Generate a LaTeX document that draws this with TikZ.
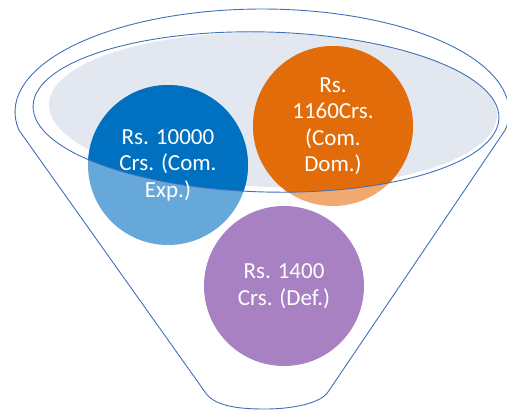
\documentclass[tikz,border=0pt]{standalone}
\usepackage{fontspec}
\newfontfamily\bubblefont{Carlito}
\definecolor{rimblue}{HTML}{4270B8}
\definecolor{openfill}{HTML}{E2E7F0}
\definecolor{expdark}{HTML}{0070C0}
\definecolor{explight}{HTML}{66A8D9}
\definecolor{domdark}{HTML}{E36C0A}
\definecolor{domlight}{HTML}{F1A96F}
\definecolor{defpurple}{HTML}{A881C3}

\begin{document}
\begin{tikzpicture}[x=1pt, y=-1pt,
  bubble/.style={circle, minimum size=160pt, inner sep=0pt},
  label/.style={align=center, text=white, font=\bubblefont\fontsize{23}{26.5}\selectfont},
  rim/.style={draw=rimblue, line width=0.9pt}
]
\useasboundingbox (0,0) rectangle (507,410);

% Funnel opening
\fill[openfill] (273,110) ellipse[x radius=224, y radius=77, rotate=-1.5];

% Bubbles (outside the opening)
\node[bubble, fill=explight] (exp) at (168,165) {};
\node[bubble, fill=domlight] (dom) at (333,126) {};
\node[bubble, fill=defpurple] (def) at (284,286) {};

% Bubbles (inside the opening)
\begin{scope}
  \clip (266,112) ellipse[x radius=233, y radius=80, rotate=-1.5];
  \fill[expdark] (exp.center) circle (80);
  \fill[domdark] (dom.center) circle (80);
\end{scope}

% Rim of the opening
\draw[rim] (266,112) ellipse[x radius=233, y radius=80, rotate=-1.5];

% Funnel body
\coordinate (rimL) at (18.8,129.9);
\coordinate (spoutL) at (205,392);
\coordinate (spoutR) at (328,392);
\draw[rim] (rimL) arc[start angle=170, end angle=370, x radius=247, y radius=103]
  -- (spoutR) .. controls (320,404) and (290,409) .. (266,409)
  .. controls (245,409) and (215,408) .. (spoutL) -- cycle;

% Labels
\node[label] (expText) at (exp) {Rs. 10000\\Crs. (Com.\\Exp.)};
\node[label] (domText) at (dom) {Rs.\\1160Crs.\\(Com.\\Dom.)};
\node[label] (defText) at (def) {Rs. 1400\\Crs. (Def.)};

\end{tikzpicture}
\end{document}
